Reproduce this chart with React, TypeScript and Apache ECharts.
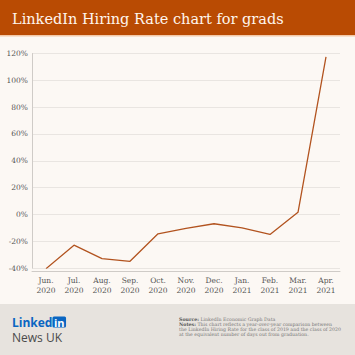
import React, { useEffect, useRef } from "react";
import * as echarts from "echarts";

const months = ["Jun.", "Jul.", "Aug.", "Sep.", "Oct.", "Nov.", "Dec.", "Jan.", "Feb.", "Mar.", "Apr."];
const years = ["2020", "2020", "2020", "2020", "2020", "2020", "2020", "2021", "2021", "2021", "2021"];
const hiringRate = [-40.5, -23, -33, -35, -14.5, -10.5, -7, -10, -15, 1.5, 117.5];
const yTicks = { min: -40, max: 120, interval: 20 };

const title = "LinkedIn Hiring Rate chart for grads";
const sourceLine = "LinkedIn Economic Graph Data";
const notesLines = [
  "This chart reflects a year-over-year comparison between",
  "the LinkedIn Hiring Rate for the class of 2019 and the class of 2020",
  "at the equivalent number of days out from graduation.",
];

export default function App() {
  const ref = useRef<HTMLDivElement>(null);
  useEffect(() => {
    if (!ref.current) return;
    const chart = echarts.init(ref.current, null, { renderer: "svg" });
    const categories = months.map((m, i) => m + "\n" + years[i]);
    const serif = "DejaVu Serif";
    const noteRich = {
      b: { fontWeight: "bold", fontFamily: "DejaVu Serif", fontSize: 4.7, fill: "#555", lineHeight: 5 },
      n: { fontFamily: "DejaVu Serif", fontSize: 4.7, fill: "#777", lineHeight: 5 },
    };
    chart.setOption({
      animation: false,
      backgroundColor: "#FCF8F4",
      grid: { left: 32, right: 15, top: 53.5, bottom: 87, containLabel: false },
      xAxis: {
        type: "category",
        data: categories,
        boundaryGap: true,
        offset: 3,
        axisLine: { show: true, onZero: false, lineStyle: { color: "#CFCBC7", width: 1 } },
        axisTick: { show: false },
        axisLabel: {
          color: "#555",
          fontFamily: serif,
          fontSize: 7.5,
          lineHeight: 9.5,
          margin: 5,
          interval: 0,
        },
        splitLine: { show: false },
      },
      yAxis: {
        type: "value",
        min: yTicks.min,
        max: yTicks.max,
        interval: yTicks.interval,
        axisLine: { show: true, lineStyle: { color: "#CFCBC7", width: 1 } },
        axisTick: { show: false },
        axisLabel: {
          formatter: "{value}%",
          color: "#555",
          fontFamily: serif,
          fontSize: 7.5,
          margin: 4,
        },
        splitLine: { show: true, lineStyle: { color: "#E9E5E1", width: 1 } },
      },
      series: [
        {
          type: "line",
          data: hiringRate,
          symbol: "none",
          lineStyle: { color: "#B2531F", width: 1.3 },
        },
      ],
      graphic: [
        { type: "rect", shape: { x: 0, y: 0, width: 355, height: 35 }, style: { fill: "#B94B03" }, z: 10 },
        { type: "rect", shape: { x: 0, y: 35, width: 355, height: 1.5 }, style: { fill: "#F3C9A8" }, z: 10 },
        {
          type: "text",
          left: 12,
          top: 11,
          style: { text: title, fill: "#FFF6EE", font: "14.5px 'DejaVu Serif'" },
          z: 11,
        },
        { type: "rect", shape: { x: 0, y: 304, width: 355, height: 51 }, style: { fill: "#E7E3DE" }, z: 10 },
        {
          type: "text",
          left: 12,
          top: 316,
          style: {
            rich: {
              a: { fontFamily: "Open Sans", fontWeight: "bold", fontSize: 12, fill: "#0A66C2", lineHeight: 13 },
              b: {
                fontFamily: "Open Sans",
                fontWeight: "bold",
                fontSize: 11,
                fill: "#FFFFFF",
                backgroundColor: "#0A66C2",
                borderRadius: 1.5,
                padding: [0, 1.5, 0, 1.5],
                lineHeight: 13,
              },
            },
            text: "{a|Linked}{b|in}",
          },
          z: 11,
        },
        {
          type: "text",
          left: 12,
          top: 331,
          style: { text: "News UK", fill: "#4A4A4A", font: "12px 'Open Sans'", lineHeight: 13 },
          z: 11,
        },
        {
          type: "text",
          left: 179,
          top: 316.8,
          style: { rich: noteRich, text: "{b|Source:}{n| " + sourceLine + "}" },
          z: 11,
        },
        ...notesLines.map((line, i) => ({
          type: "text",
          left: 179,
          top: 321.8 + i * 5,
          style: {
            rich: noteRich,
            text: i === 0 ? "{b|Notes:}{n| " + line + "}" : "{n|" + line + "}",
          },
          z: 11,
        })),
      ],
    });
    return () => chart.dispose();
  }, []);
  return <div ref={ref} style={{ position: "fixed", left: 0, top: 0, width: 355, height: 355 }} />;
}
